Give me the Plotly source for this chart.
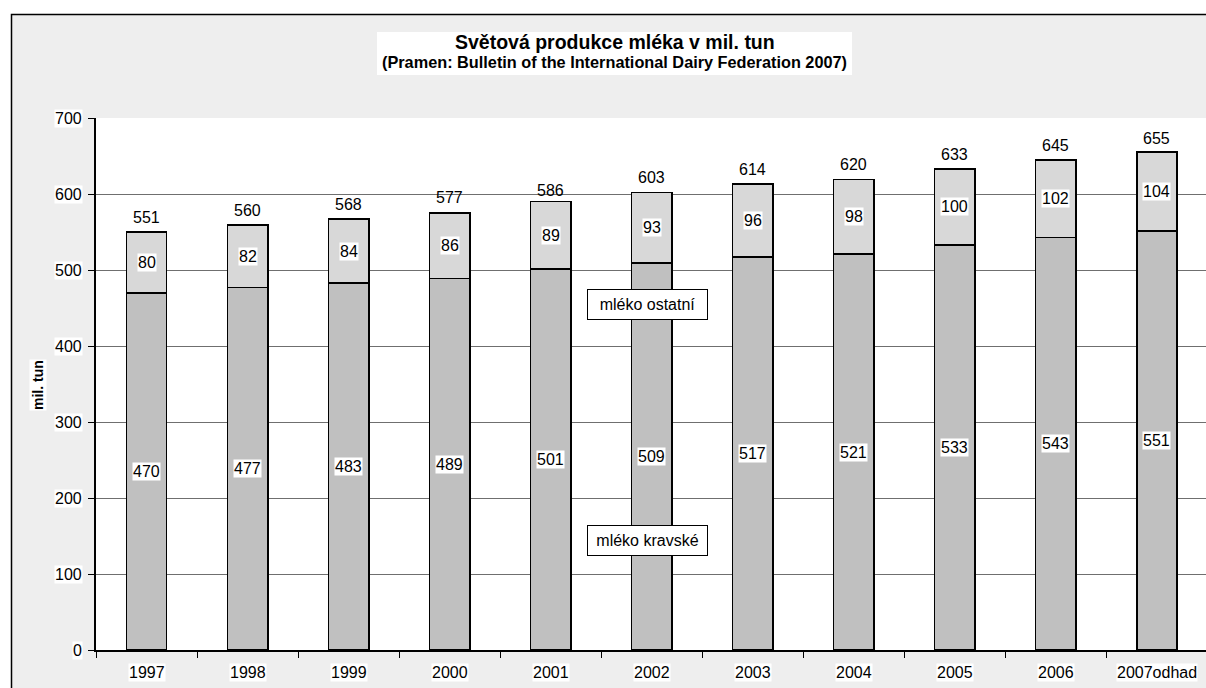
import plotly.graph_objects as go

# ---- data ----
years = ["1997", "1998", "1999", "2000", "2001", "2002", "2003", "2004", "2005", "2006", "2007odhad"]
cow_milk = [470, 477, 483, 489, 501, 509, 517, 521, 533, 543, 551]
other_milk = [80, 82, 84, 86, 89, 93, 96, 98, 100, 102, 104]
totals = [551, 560, 568, 577, 586, 603, 614, 620, 633, 645, 655]
y_ticks = [0, 100, 200, 300, 400, 500, 600, 700]

title_main = "Světová produkce mléka v mil. tun"
title_sub = "(Pramen: Bulletin of the International Dairy Federation 2007)"
y_title = "mil. tun"
name_cow = "mléko kravské"
name_other = "mléko ostatní"

# ---- layout geometry ----
W, H = 1206, 688
ML, MR, MT, MB = 96, 0, 118, 38
PW = W - ML - MR
PH = H - MT - MB


def px_x(px):
    return (px - ML) / PW


def px_y(py):
    return (H - MB - py) / PH


FONT = "Arial, Liberation Sans, sans-serif"
COL_COW = "#c0c0c0"
COL_OTHER = "#d8d8d8"
BG = "#eeeeee"

fig = go.Figure()
fig.add_trace(go.Bar(
    x=years, y=cow_milk, name=name_cow, width=0.4,
    marker=dict(color=COL_COW, line=dict(color="black", width=1.5)),
    showlegend=False, hoverinfo="x+y",
))
fig.add_trace(go.Bar(
    x=years, y=other_milk, name=name_other, width=0.4,
    marker=dict(color=COL_OTHER, line=dict(color="black", width=1.5)),
    showlegend=False, hoverinfo="x+y",
))

ann = []
lab_font = dict(family=FONT, size=16, color="black")
# y tick labels
for v in y_ticks:
    ann.append(dict(xref="paper", x=0, xanchor="right", xshift=-13,
                    yref="y", y=v, yanchor="middle", text=str(v),
                    showarrow=False, bgcolor="white", borderpad=0, font=lab_font))
# x tick labels
for i, yr in enumerate(years):
    ann.append(dict(xref="x", x=i, xanchor="center",
                    yref="paper", y=0, yanchor="middle", yshift=-22,
                    text=yr, showarrow=False, bgcolor="white", borderpad=0, font=lab_font))
# data labels
for i, (c, o, t) in enumerate(zip(cow_milk, other_milk, totals)):
    ann.append(dict(xref="x", x=i, yref="y", y=c / 2, text=str(c), showarrow=False,
                    bgcolor="white", borderpad=0, font=lab_font))
    ann.append(dict(xref="x", x=i, yref="y", y=c + o / 2, text=str(o), showarrow=False,
                    bgcolor="white", borderpad=0, font=lab_font))
    ann.append(dict(xref="x", x=i, yref="y", y=t, yanchor="middle", yshift=14,
                    text=str(t), showarrow=False, font=lab_font))
# series name callouts
for name, yv in [(name_other, 454.5), (name_cow, 144.4)]:
    ann.append(dict(xref="x", x=4.958, yref="y", y=yv, text=name, showarrow=False,
                    bgcolor="white", bordercolor="black", borderwidth=1, borderpad=1,
                    width=117, height=27, font=dict(family=FONT, size=16, color="black")))
# title (two lines on one white panel)
ann.append(dict(xref="paper", x=px_x(614.5), xanchor="center",
                yref="paper", y=px_y(42), yanchor="middle",
                text="<b>" + title_main + "</b>", showarrow=False,
                font=dict(family=FONT, size=19.5, color="black")))
ann.append(dict(xref="paper", x=px_x(614.5), xanchor="center",
                yref="paper", y=px_y(62.5), yanchor="middle",
                text="<b>" + title_sub + "</b>", showarrow=False,
                font=dict(family=FONT, size=16.3, color="black")))
# y axis title
ann.append(dict(xref="paper", x=px_x(38), xanchor="center",
                yref="paper", y=px_y(385), yanchor="middle",
                text="<b>" + y_title + "</b>", textangle=-90, showarrow=False,
                bgcolor="white", borderpad=0,
                font=dict(family=FONT, size=14, color="black")))

shapes = [
    # white page margin outside the chart border
    dict(type="rect", xref="paper", yref="paper", x0=px_x(-10), x1=px_x(11),
         y0=px_y(720), y1=px_y(-10), fillcolor="white", line=dict(width=0), layer="below"),
    dict(type="rect", xref="paper", yref="paper", x0=px_x(-10), x1=px_x(1230),
         y0=px_y(14), y1=px_y(-10), fillcolor="white", line=dict(width=0), layer="below"),
    # white title panel
    dict(type="rect", xref="paper", yref="paper", x0=px_x(377), x1=px_x(852),
         y0=px_y(75), y1=px_y(32), fillcolor="white", line=dict(width=0), layer="below"),
    # chart border
    dict(type="rect", xref="paper", yref="paper", x0=px_x(11.5), x1=px_x(1230),
         y0=px_y(720), y1=px_y(14.5), fillcolor="rgba(0,0,0,0)",
         line=dict(color="black", width=1.5), layer="above"),
]

fig.update_layout(
    width=W, height=H,
    margin=dict(l=ML, r=MR, t=MT, b=MB, pad=0, autoexpand=False),
    paper_bgcolor=BG, plot_bgcolor="white",
    barmode="stack",
    font=dict(family=FONT, size=16, color="black"),
    xaxis=dict(type="category", range=[-0.5, 10.485], showline=True, linecolor="black",
               linewidth=1.5, ticks="outside", tickson="boundaries", ticklen=6,
               tickcolor="black", tickwidth=1.2, showticklabels=False, showgrid=False,
               zeroline=False, automargin=False, fixedrange=True),
    yaxis=dict(range=[0, 700], tickvals=y_ticks, showline=True, linecolor="black",
               linewidth=1.5, ticks="outside", ticklen=6, tickcolor="black", tickwidth=1.2,
               showticklabels=False, showgrid=True, gridcolor="#6f6f6f", gridwidth=1,
               zeroline=False, automargin=False, fixedrange=True),
    annotations=ann,
    shapes=shapes,
    showlegend=False,
)

fig.write_html(
    "out.html",
    config={"displayModeBar": False},
    post_script="document.body.style.margin='0';document.body.style.overflow='hidden';",
)
